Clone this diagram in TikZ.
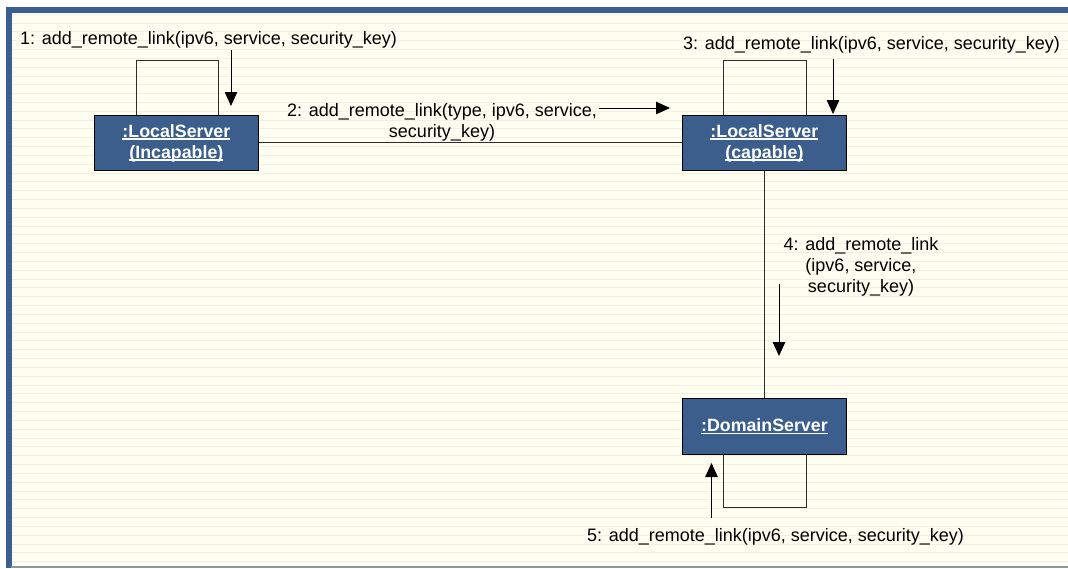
\documentclass[tikz,border=0pt]{standalone}
\usepackage{fontspec}
\setmainfont{Liberation Sans}
\usetikzlibrary{arrows.meta}
\definecolor{paper}{RGB}{254,254,240}
\definecolor{ruling}{RGB}{240,240,231}
\definecolor{frameblue}{RGB}{58,94,142}
\definecolor{edgegray}{RGB}{138,150,165}
\definecolor{objfill}{RGB}{59,94,140}
\definecolor{wire}{RGB}{45,45,45}

% underlined object name with a thicker white rule
\newcommand\objline[1]{\setbox0\hbox{#1}\rlap{\color{white}\rule[-2.6pt]{\wd0}{1.3pt}}\box0}

\begin{document}
\begin{tikzpicture}[x=1pt,y=-1pt,
  obj/.style={draw=black, line width=0.8pt, fill=objfill, text=white,
    font=\fontsize{17.8}{21}\selectfont\bfseries, align=center,
    minimum width=164pt, minimum height=55pt, inner sep=0pt, anchor=north west},
  msg/.style={font=\fontsize{18}{21}\selectfont, text=black, inner sep=0pt},
  link/.style={draw=wire, line width=0.9pt},
  call/.style={draw=black, line width=1pt, -{Triangle[width=12.5pt,length=14pt]}}]

% paper and frame
\useasboundingbox (0,0) rectangle (1068,568);
\fill[white] (0,0) rectangle (1068,568);
\fill[frameblue] (6,7) rectangle (1068,567.5);
\fill[edgegray] (11,566) rectangle (1068,567.5);
\fill[paper] (11.5,12.5) rectangle (1068,566);
\foreach \k in {0,...,62}
  \draw[ruling, line width=0.8pt] (12,14.1+8.83*\k) -- (1068,14.1+8.83*\k);

% objects
\node[obj] (b1) at (94,115) {\objline{:LocalServer}\\\objline{(Incapable)}};
\node[obj] (b2) at (682,115) {\objline{:LocalServer}\\\objline{(capable)}};
\node[obj, minimum height=56pt] (b3) at (682,398) {\objline{:DomainServer}};

% links
\draw[link] (b1.east) -- (b2.west);
\draw[link] (b2.south) -- (b3.north);
\draw[link] ([xshift=42pt]b1.north west) -- ++(0,-54.5) -| ([xshift=-40pt]b1.north east);
\draw[link] ([xshift=41pt]b2.north west) -- ++(0,-54.5) -| ([xshift=-40.5pt]b2.north east);
\draw[link] ([xshift=41pt]b3.south west) -- ++(0,52.5) -| ([xshift=-40.5pt]b3.south east);

% message arrows
\coordinate (a1s) at (231,50);    \coordinate (a1e) at (231,106);
\coordinate (a2s) at (599,108);   \coordinate (a2e) at (670,108);
\coordinate (a3s) at (833,59);    \coordinate (a3e) at (833,114);
\coordinate (a4s) at (779,284);   \coordinate (a4e) at (779,356);
\coordinate (a5s) at (711.5,518); \coordinate (a5e) at (711.5,463);
\draw[call] (a1s) -- (a1e);
\draw[call] (a2s) -- (a2e);
\draw[call] (a3s) -- (a3e);
\draw[call] (a4s) -- (a4e);
\draw[call] (a5s) -- (a5e);

% message labels (base of a multi-line label is its last line)
\node[msg, anchor=base west] (m1) at (20,44.5) {1: add\_remote\_link(ipv6, service, security\_key)};
\node[msg, anchor=base, align=center] (m2) at (442,137) {2: add\_remote\_link(type, ipv6, service,\\security\_key)};
\node[msg, anchor=base west] (m3) at (683,49.5) {3: add\_remote\_link(ipv6, service, security\_key)};
\node[msg, anchor=base, align=center] (m4) at (861,292) {4: add\_remote\_link\\(ipv6, service,\\security\_key)};
\node[msg, anchor=base west] (m5) at (587,541.5) {5: add\_remote\_link(ipv6, service, security\_key)};
\end{tikzpicture}
\end{document}
